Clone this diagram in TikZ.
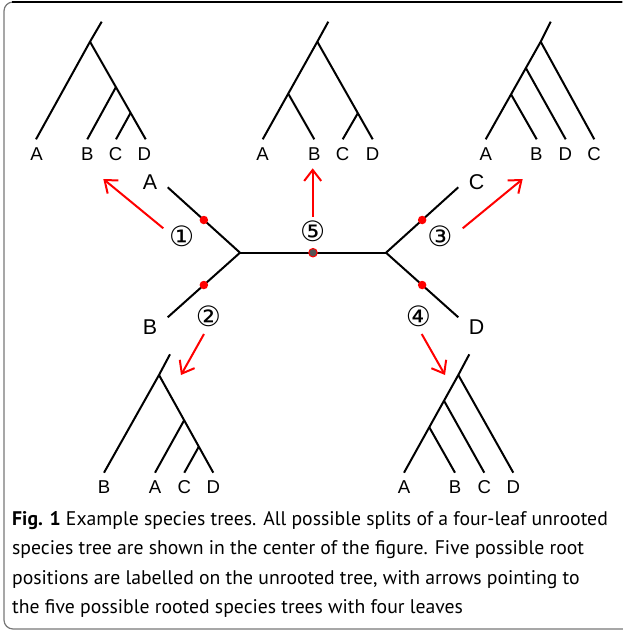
\documentclass[tikz,border=0pt]{standalone}
\usepackage{fontspec}
\setmainfont{Liberation Sans}
\newfontfamily\capfont{PT Sans}
\newfontfamily\circfont{DejaVu Sans}
\usetikzlibrary{arrows.meta,calc}

\definecolor{rootred}{RGB}{255,0,0}
\definecolor{framegray}{RGB}{120,120,120}
\definecolor{dotgray}{RGB}{85,85,85}

\begin{document}
\begin{tikzpicture}[x=1pt,y=-1pt,
  branch/.style={line width=2pt},
  leaf/.style={font=\fontsize{18.6}{20}\selectfont, anchor=base, inner sep=0pt},
  taxon/.style={font=\fontsize{21.4}{24}\selectfont, anchor=base, inner sep=0pt},
  rootdot/.style={circle, fill=rootred, inner sep=0pt, minimum size=8.5pt},
  middot/.style={circle, fill=dotgray, draw=rootred, line width=1pt, inner sep=0pt, minimum size=8.5pt},
  posnum/.style={font=\circfont\fontsize{28}{30}\selectfont, inner sep=0pt},
  pointer/.style={draw=rootred, line width=2pt, -{Straight Barb[length=11pt,width=17pt,line width=2pt]}},
  caption/.style={font=\capfont\fontsize{19.7}{29.5}\selectfont, align=left, anchor=north west, inner sep=0pt}]

\useasboundingbox (0,0) rectangle (622,632);

% frame
\draw[framegray, line width=1.2pt, rounded corners=9pt] (4,2) rectangle (640,629);
\draw[black, line width=1.4pt] (12,2) -- (622,2);

% ---------- rooted tree ((A,(B,(C,D))))
\coordinate (t1r) at (101.7,21.7);
\coordinate (t1n1) at (90,41.7);
\coordinate (t1n2) at (116,87);
\coordinate (t1n3) at (130.5,113);
\coordinate (t1a) at (36,139.3);
\coordinate (t1b) at (87.3,139.3);
\coordinate (t1c) at (116,139.3);
\coordinate (t1d) at (145.7,139.3);
\draw[branch] (t1r) -- (t1n1) -- (t1a);
\draw[branch] (t1n1) -- (t1d);
\draw[branch] (t1n2) -- (t1b);
\draw[branch] (t1n3) -- (t1c);
\node[leaf] (t1A) at (36.7,160.7) {A};
\node[leaf] (t1B) at (87.3,160.7) {B};
\node[leaf] (t1C) at (115.7,160.7) {C};
\node[leaf] (t1D) at (144.3,160.7) {D};

% ---------- rooted tree ((A,B),(C,D))
\coordinate (t2r) at (328.3,21.7);
\coordinate (t2n1) at (317.3,41.7);
\coordinate (t2n2) at (288.6,94.3);
\coordinate (t2n3) at (357.8,113.3);
\coordinate (t2a) at (262.7,139.3);
\coordinate (t2b) at (314.3,139.3);
\coordinate (t2c) at (342.7,139.3);
\coordinate (t2d) at (372.7,139.3);
\draw[branch] (t2r) -- (t2n1) -- (t2a);
\draw[branch] (t2n1) -- (t2d);
\draw[branch] (t2n2) -- (t2b);
\draw[branch] (t2n3) -- (t2c);
\node[leaf] (t2A) at (262.7,160.7) {A};
\node[leaf] (t2B) at (314.3,160.7) {B};
\node[leaf] (t2C) at (342.7,160.7) {C};
\node[leaf] (t2D) at (372.7,160.7) {D};

% ---------- rooted tree (((A,B),D),C)
\coordinate (t3r) at (550.7,21.7);
\coordinate (t3n1) at (540.7,41.7);
\coordinate (t3n2) at (526,68.3);
\coordinate (t3n3) at (511,94.3);
\coordinate (t3a) at (485.7,139.3);
\coordinate (t3b) at (536.7,139.3);
\coordinate (t3d) at (565.7,139.3);
\coordinate (t3c) at (594.3,139.3);
\draw[branch] (t3r) -- (t3n1) -- (t3a);
\draw[branch] (t3n1) -- (t3c);
\draw[branch] (t3n2) -- (t3d);
\draw[branch] (t3n3) -- (t3b);
\node[leaf] (t3A) at (485.7,160.7) {A};
\node[leaf] (t3B) at (536.3,160.7) {B};
\node[leaf] (t3D) at (565.3,160.7) {D};
\node[leaf] (t3C) at (594,160.7) {C};

% ---------- rooted tree (B,(A,(C,D)))
\coordinate (t4r) at (170,354.3);
\coordinate (t4n1) at (159,375);
\coordinate (t4n2) at (184.3,420);
\coordinate (t4n3) at (198.8,446.7);
\coordinate (t4b) at (104,472.7);
\coordinate (t4a) at (155,472.7);
\coordinate (t4c) at (184.3,472.7);
\coordinate (t4d) at (213.3,472.7);
\draw[branch] (t4r) -- (t4n1) -- (t4b);
\draw[branch] (t4n1) -- (t4d);
\draw[branch] (t4n2) -- (t4a);
\draw[branch] (t4n3) -- (t4c);
\node[leaf] (t4B) at (104,493.4) {B};
\node[leaf] (t4A) at (155,493.4) {A};
\node[leaf] (t4C) at (184.3,493.4) {C};
\node[leaf] (t4D) at (213.3,493.4) {D};

% ---------- rooted tree (((A,B),C),D)
\coordinate (t5r) at (469.3,354.3);
\coordinate (t5n1) at (458.3,375);
\coordinate (t5n2) at (444,400.7);
\coordinate (t5n3) at (429.3,427.3);
\coordinate (t5a) at (404,472.7);
\coordinate (t5b) at (455,472.7);
\coordinate (t5c) at (484.3,472.7);
\coordinate (t5d) at (513.3,472.7);
\draw[branch] (t5r) -- (t5n1) -- (t5a);
\draw[branch] (t5n1) -- (t5d);
\draw[branch] (t5n2) -- (t5c);
\draw[branch] (t5n3) -- (t5b);
\node[leaf] (t5A) at (404,493.4) {A};
\node[leaf] (t5B) at (455,493.4) {B};
\node[leaf] (t5C) at (484.3,493.4) {C};
\node[leaf] (t5D) at (513.3,493.4) {D};

% ---------- unrooted tree
\coordinate (ul) at (240,252.7);
\coordinate (ur) at (386,252.7);
\coordinate (ua) at (167.7,187.3);
\coordinate (ub) at (167.7,317.3);
\coordinate (uc) at (458.3,187.3);
\coordinate (ud) at (458.3,317.3);
\draw[branch] (ua) -- (ul) -- (ub);
\draw[branch] (ul) -- (ur);
\draw[branch] (uc) -- (ur) -- (ud);
\node[taxon] (uA) at (150,189.3) {A};
\node[taxon] (uB) at (150,334) {B};
\node[taxon] (uC) at (476.7,189.8) {C};
\node[taxon] (uD) at (476.7,334) {D};

% candidate root positions
\node[rootdot] (p1) at ($(ul)!0.5!(ua)$) {};
\node[rootdot] (p2) at ($(ul)!0.5!(ub)$) {};
\node[rootdot] (p3) at ($(ur)!0.5!(uc)$) {};
\node[rootdot] (p4) at ($(ur)!0.5!(ud)$) {};
\node[middot] (p5) at ($(ul)!0.5!(ur)$) {};

\node[posnum] (n1) at (181.7,236.7) {①};
\node[posnum] (n2) at (208.3,316.7) {②};
\node[posnum] (n3) at (440,236.7) {③};
\node[posnum] (n4) at (418.3,316.7) {④};
\node[posnum] (n5) at (312.7,231.7) {⑤};

% arrows to the rooted trees
\coordinate (a1s) at (163.3,228.3);
\coordinate (a1e) at (103.3,179);
\coordinate (a2s) at (204,334);
\coordinate (a2e) at (181,375);
\coordinate (a3s) at (462.7,228.3);
\coordinate (a3e) at (522.7,179);
\coordinate (a4s) at (421.7,334);
\coordinate (a4e) at (445,375);
\coordinate (a5s) at (312.7,216.7);
\coordinate (a5e) at (312.7,168.3);
\draw[pointer] (a1s) -- (a1e);
\draw[pointer] (a2s) -- (a2e);
\draw[pointer] (a3s) -- (a3e);
\draw[pointer] (a4s) -- (a4e);
\draw[pointer] (a5s) -- (a5e);

% caption
\node[caption] (cap) at (12,511) {\textbf{Fig. 1} Example species trees. All possible splits of a four-leaf unrooted\\
species tree are shown in the center of the figure. Five possible root\\
positions are labelled on the unrooted tree, with arrows pointing to\\
the five possible rooted species trees with four leaves};
\end{tikzpicture}
\end{document}
